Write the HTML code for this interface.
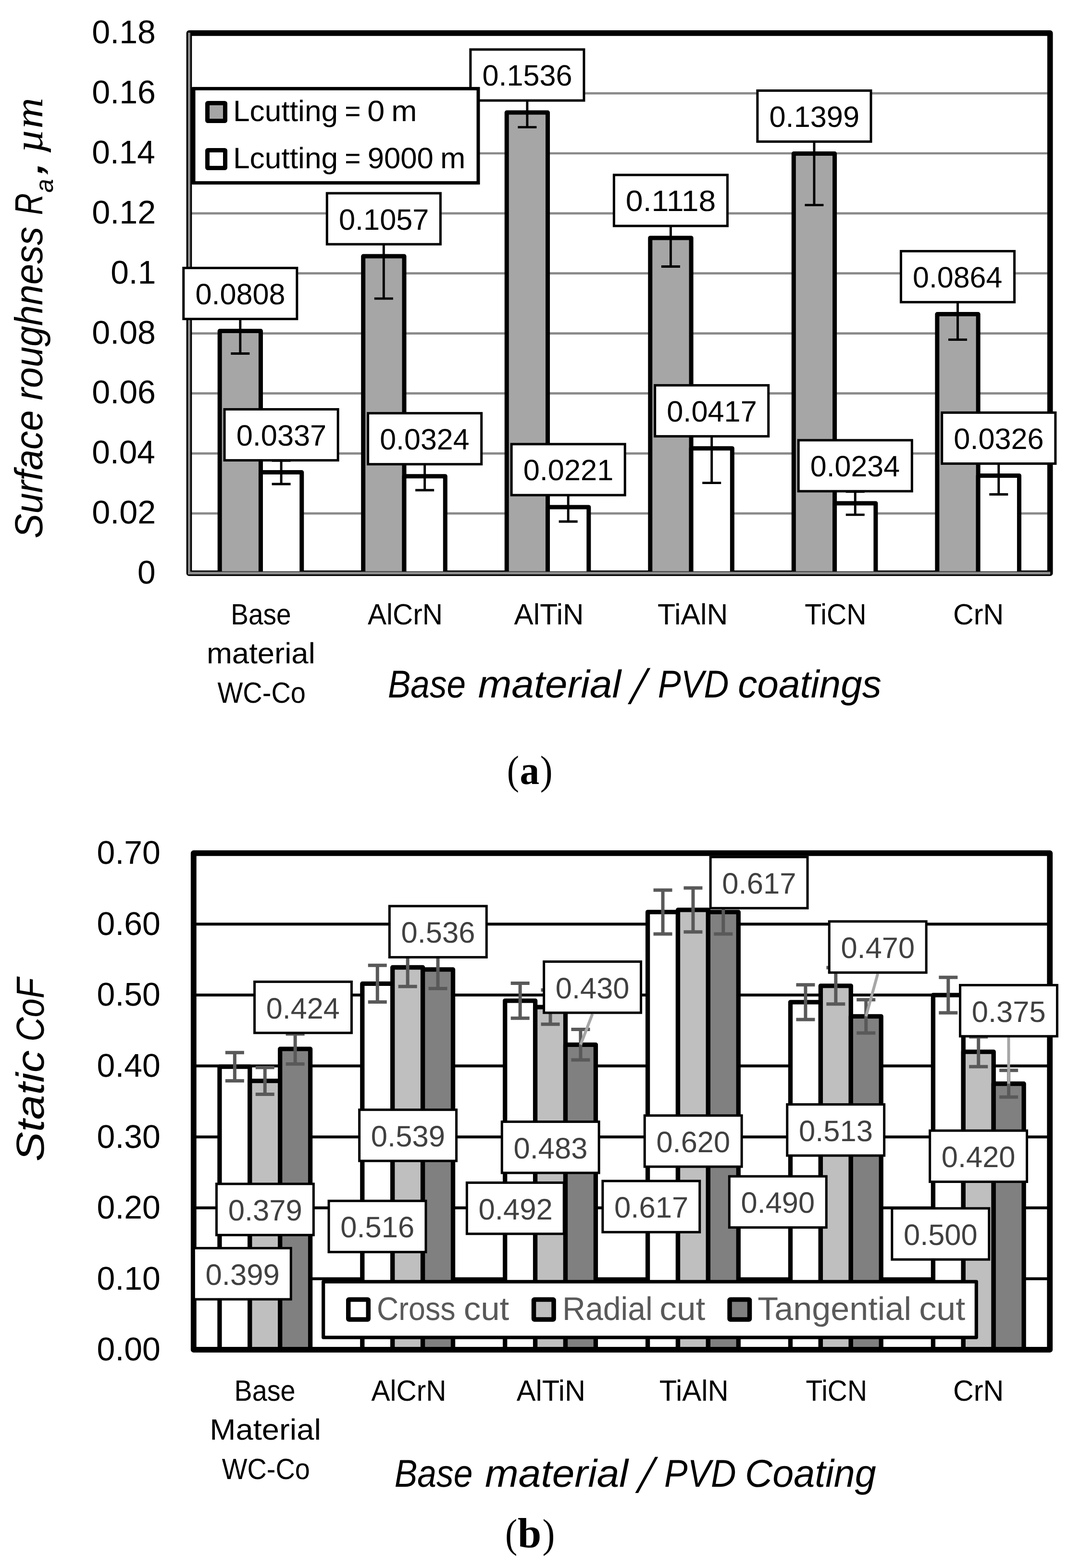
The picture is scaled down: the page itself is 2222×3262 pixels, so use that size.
<!DOCTYPE html>
<html lang="en">
<head>
<meta charset="utf-8">
<title>Surface roughness and static CoF charts</title>
<style>
html,body{margin:0;padding:0;background:#fff;}
body{width:2222px;height:3262px;overflow:hidden;}
svg{display:block;}
text{white-space:pre;text-rendering:geometricPrecision;}
</style>
</head>
<body>
<svg width="2222" height="3262" viewBox="0 0 2222 3262" role="img" aria-label="Bar charts: (a) surface roughness, (b) static coefficient of friction">
<rect width="2222" height="3262" fill="#fff"/>
<rect x="393.5" y="68.9" width="1791.2" height="1123.6" fill="#fff" stroke="none"/>
<line x1="393.5" x2="2184.7" y1="1068.14" y2="1068.14" stroke="#8a8a8a" stroke-width="4.7"/>
<line x1="393.5" x2="2184.7" y1="943.28" y2="943.28" stroke="#8a8a8a" stroke-width="4.7"/>
<line x1="393.5" x2="2184.7" y1="818.42" y2="818.42" stroke="#8a8a8a" stroke-width="4.7"/>
<line x1="393.5" x2="2184.7" y1="693.56" y2="693.56" stroke="#8a8a8a" stroke-width="4.7"/>
<line x1="393.5" x2="2184.7" y1="568.7" y2="568.7" stroke="#8a8a8a" stroke-width="4.7"/>
<line x1="393.5" x2="2184.7" y1="443.84" y2="443.84" stroke="#8a8a8a" stroke-width="4.7"/>
<line x1="393.5" x2="2184.7" y1="318.98" y2="318.98" stroke="#8a8a8a" stroke-width="4.7"/>
<line x1="393.5" x2="2184.7" y1="194.12" y2="194.12" stroke="#8a8a8a" stroke-width="4.7"/>
<rect x="393.5" y="68.9" width="1791.2" height="1123.6" fill="none" stroke="#000" stroke-width="11.6" stroke-linejoin="round"/>
<rect x="457.17" y="688.57" width="85.3" height="504.43" fill="#a6a6a6" stroke="#000" stroke-width="9" stroke-linejoin="round"/>
<rect x="542.47" y="982.61" width="85.3" height="210.39" fill="#fff" stroke="#000" stroke-width="9" stroke-linejoin="round"/>
<rect x="755.7" y="533.11" width="85.3" height="659.89" fill="#a6a6a6" stroke="#000" stroke-width="9" stroke-linejoin="round"/>
<rect x="841" y="990.73" width="85.3" height="202.27" fill="#fff" stroke="#000" stroke-width="9" stroke-linejoin="round"/>
<rect x="1054.24" y="234.08" width="85.3" height="958.92" fill="#a6a6a6" stroke="#000" stroke-width="9" stroke-linejoin="round"/>
<rect x="1139.53" y="1055.03" width="85.3" height="137.97" fill="#fff" stroke="#000" stroke-width="9" stroke-linejoin="round"/>
<rect x="1352.77" y="495.03" width="85.3" height="697.97" fill="#a6a6a6" stroke="#000" stroke-width="9" stroke-linejoin="round"/>
<rect x="1438.07" y="932.67" width="85.3" height="260.33" fill="#fff" stroke="#000" stroke-width="9" stroke-linejoin="round"/>
<rect x="1651.3" y="319.6" width="85.3" height="873.4" fill="#a6a6a6" stroke="#000" stroke-width="9" stroke-linejoin="round"/>
<rect x="1736.6" y="1046.91" width="85.3" height="146.09" fill="#fff" stroke="#000" stroke-width="9" stroke-linejoin="round"/>
<rect x="1949.84" y="653.6" width="85.3" height="539.4" fill="#a6a6a6" stroke="#000" stroke-width="9" stroke-linejoin="round"/>
<rect x="2035.13" y="989.48" width="85.3" height="203.52" fill="#fff" stroke="#000" stroke-width="9" stroke-linejoin="round"/>
<line x1="393.5" x2="393.5" y1="67.9" y2="1194.9" stroke="#8c8c8c" stroke-width="4.8"/>
<line x1="391.1" x2="2185.1" y1="1192.3" y2="1192.3" stroke="#8c8c8c" stroke-width="5.6"/>
<path d="M499.82 641.57V735.57M480.32 641.57h39M480.32 735.57h39" fill="none" stroke="#000" stroke-width="4.9"/>
<path d="M585.11 958.21V1007.01M565.61 958.21h39M565.61 1007.01h39" fill="none" stroke="#000" stroke-width="4.9"/>
<path d="M798.35 445.11V621.11M778.85 445.11h39M778.85 621.11h39" fill="none" stroke="#000" stroke-width="4.9"/>
<path d="M883.65 961.73V1019.73M864.15 961.73h39M864.15 1019.73h39" fill="none" stroke="#000" stroke-width="4.9"/>
<path d="M1096.89 203.58V264.58M1077.39 203.58h39M1077.39 264.58h39" fill="none" stroke="#000" stroke-width="4.9"/>
<path d="M1182.18 1025.03V1085.03M1162.68 1025.03h39M1162.68 1085.03h39" fill="none" stroke="#000" stroke-width="4.9"/>
<path d="M1395.42 435.63V554.43M1375.92 435.63h39M1375.92 554.43h39" fill="none" stroke="#000" stroke-width="4.9"/>
<path d="M1480.71 860.67V1004.67M1461.21 860.67h39M1461.21 1004.67h39" fill="none" stroke="#000" stroke-width="4.9"/>
<path d="M1693.95 212.6V426.6M1674.45 212.6h39M1674.45 426.6h39" fill="none" stroke="#000" stroke-width="4.9"/>
<path d="M1779.25 1022.91V1070.91M1759.75 1022.91h39M1759.75 1070.91h39" fill="none" stroke="#000" stroke-width="4.9"/>
<path d="M1992.49 600.6V706.6M1972.99 600.6h39M1972.99 706.6h39" fill="none" stroke="#000" stroke-width="4.9"/>
<path d="M2077.78 950.48V1028.48M2058.28 950.48h39M2058.28 1028.48h39" fill="none" stroke="#000" stroke-width="4.9"/>
<rect x="381.77" y="557.47" width="236.1" height="106.1" fill="#fff" stroke="#000" stroke-width="5"/>
<text transform="translate(406.38 632.97) scale(0.9971 1)" font-family='"Liberation Sans", Arial, Helvetica, sans-serif' font-size="61.4">0.0808</text>
<rect x="467.06" y="851.51" width="236.1" height="106.1" fill="#fff" stroke="#000" stroke-width="5"/>
<text transform="translate(491.67 927.01) scale(0.9988 1)" font-family='"Liberation Sans", Arial, Helvetica, sans-serif' font-size="61.4">0.0337</text>
<rect x="680.3" y="402.01" width="236.1" height="106.1" fill="#fff" stroke="#000" stroke-width="5"/>
<text transform="translate(704.91 477.51) scale(0.9988 1)" font-family='"Liberation Sans", Arial, Helvetica, sans-serif' font-size="61.4">0.1057</text>
<rect x="765.6" y="859.63" width="236.1" height="106.1" fill="#fff" stroke="#000" stroke-width="5"/>
<text transform="translate(790.22 935.13) scale(0.9922 1)" font-family='"Liberation Sans", Arial, Helvetica, sans-serif' font-size="61.4">0.0324</text>
<rect x="978.84" y="102.98" width="236.1" height="106.1" fill="#fff" stroke="#000" stroke-width="5"/>
<text transform="translate(1003.44 178.48) scale(0.9971 1)" font-family='"Liberation Sans", Arial, Helvetica, sans-serif' font-size="61.4">0.1536</text>
<rect x="1064.13" y="923.93" width="236.1" height="106.1" fill="#fff" stroke="#000" stroke-width="5"/>
<text transform="translate(1088.73 999.43) scale(0.9988 1)" font-family='"Liberation Sans", Arial, Helvetica, sans-serif' font-size="61.4">0.0221</text>
<rect x="1277.37" y="363.93" width="236.1" height="106.1" fill="#fff" stroke="#000" stroke-width="5"/>
<text transform="translate(1301.86 439.43) scale(1.0494 1)" font-family='"Liberation Sans", Arial, Helvetica, sans-serif' font-size="61.4">0.1118</text>
<rect x="1362.66" y="801.57" width="236.1" height="106.1" fill="#fff" stroke="#000" stroke-width="5"/>
<text transform="translate(1387.27 877.07) scale(0.9988 1)" font-family='"Liberation Sans", Arial, Helvetica, sans-serif' font-size="61.4">0.0417</text>
<rect x="1575.9" y="188.5" width="236.1" height="106.1" fill="#fff" stroke="#000" stroke-width="5"/>
<text transform="translate(1600.51 264) scale(0.9988 1)" font-family='"Liberation Sans", Arial, Helvetica, sans-serif' font-size="61.4">0.1399</text>
<rect x="1661.2" y="915.81" width="236.1" height="106.1" fill="#fff" stroke="#000" stroke-width="5"/>
<text transform="translate(1685.82 991.31) scale(0.9922 1)" font-family='"Liberation Sans", Arial, Helvetica, sans-serif' font-size="61.4">0.0234</text>
<rect x="1874.44" y="522.5" width="236.1" height="106.1" fill="#fff" stroke="#000" stroke-width="5"/>
<text transform="translate(1899.05 598) scale(0.9922 1)" font-family='"Liberation Sans", Arial, Helvetica, sans-serif' font-size="61.4">0.0864</text>
<rect x="1959.73" y="858.38" width="236.1" height="106.1" fill="#fff" stroke="#000" stroke-width="5"/>
<text transform="translate(1984.34 933.88) scale(0.9971 1)" font-family='"Liberation Sans", Arial, Helvetica, sans-serif' font-size="61.4">0.0326</text>
<rect x="403" y="184.4" width="592" height="196" fill="#fff" stroke="#000" stroke-width="7" stroke-linejoin="miter"/>
<rect x="397" y="182" width="6" height="200.8" fill="#000"/>
<rect x="431.5" y="214.5" width="37" height="37" rx="1" fill="#a6a6a6" stroke="#000" stroke-width="9" stroke-linejoin="round"/>
<rect x="431.5" y="312.5" width="37" height="37" rx="1" fill="#fff" stroke="#000" stroke-width="9" stroke-linejoin="round"/>
<text transform="translate(484.91 251.8) scale(1.0168 1)" font-family='"Liberation Sans", Arial, Helvetica, sans-serif' font-size="61.3">Lcutting</text>
<text transform="translate(717.24 251.8) scale(0.9289 1)" font-family='"Liberation Sans", Arial, Helvetica, sans-serif' font-size="61.3">=</text>
<text transform="translate(764.33 251.8) scale(1.0562 1)" font-family='"Liberation Sans", Arial, Helvetica, sans-serif' font-size="61.3">0</text>
<text transform="translate(814.15 251.8) scale(1.0413 1)" font-family='"Liberation Sans", Arial, Helvetica, sans-serif' font-size="61.3">m</text>
<text transform="translate(484.91 350) scale(1.0168 1)" font-family='"Liberation Sans", Arial, Helvetica, sans-serif' font-size="61.3">Lcutting</text>
<text transform="translate(717.24 350) scale(0.9289 1)" font-family='"Liberation Sans", Arial, Helvetica, sans-serif' font-size="61.3">=</text>
<text transform="translate(764.63 350) scale(1.0054 1)" font-family='"Liberation Sans", Arial, Helvetica, sans-serif' font-size="61.3">9000</text>
<text transform="translate(916.12 350) scale(1.0251 1)" font-family='"Liberation Sans", Arial, Helvetica, sans-serif' font-size="61.3">m</text>
<text transform="translate(286.03 1214) scale(0.9873 1)" font-family='"Liberation Sans", Arial, Helvetica, sans-serif' font-size="68.5">0</text>
<text transform="translate(191.31 1089.14) scale(0.9980 1)" font-family='"Liberation Sans", Arial, Helvetica, sans-serif' font-size="68.5">0.02</text>
<text transform="translate(191.33 964.28) scale(0.9874 1)" font-family='"Liberation Sans", Arial, Helvetica, sans-serif' font-size="68.5">0.04</text>
<text transform="translate(191.31 839.42) scale(0.9953 1)" font-family='"Liberation Sans", Arial, Helvetica, sans-serif' font-size="68.5">0.06</text>
<text transform="translate(191.31 714.56) scale(0.9953 1)" font-family='"Liberation Sans", Arial, Helvetica, sans-serif' font-size="68.5">0.08</text>
<text transform="translate(230.23 589.7) scale(0.9881 1)" font-family='"Liberation Sans", Arial, Helvetica, sans-serif' font-size="68.5">0.1</text>
<text transform="translate(191.31 464.84) scale(0.9980 1)" font-family='"Liberation Sans", Arial, Helvetica, sans-serif' font-size="68.5">0.12</text>
<text transform="translate(191.33 339.98) scale(0.9874 1)" font-family='"Liberation Sans", Arial, Helvetica, sans-serif' font-size="68.5">0.14</text>
<text transform="translate(191.31 215.12) scale(0.9953 1)" font-family='"Liberation Sans", Arial, Helvetica, sans-serif' font-size="68.5">0.16</text>
<text transform="translate(191.31 90.26) scale(0.9953 1)" font-family='"Liberation Sans", Arial, Helvetica, sans-serif' font-size="68.5">0.18</text>
<text transform="translate(480.3 1298.5) scale(0.9009 1)" font-family='"Liberation Sans", Arial, Helvetica, sans-serif' font-size="61">Base</text>
<text transform="translate(429.97 1380) scale(1.0406 1)" font-family='"Liberation Sans", Arial, Helvetica, sans-serif' font-size="61">material</text>
<text transform="translate(452.5 1461.5) scale(0.9179 1)" font-family='"Liberation Sans", Arial, Helvetica, sans-serif' font-size="61">WC-Co</text>
<text transform="translate(764.9 1298.5) scale(0.9598 1)" font-family='"Liberation Sans", Arial, Helvetica, sans-serif' font-size="61">AlCrN</text>
<text transform="translate(1069.6 1298.5) scale(0.9871 1)" font-family='"Liberation Sans", Arial, Helvetica, sans-serif' font-size="61">AlTiN</text>
<text transform="translate(1368.08 1298.5) scale(0.9964 1)" font-family='"Liberation Sans", Arial, Helvetica, sans-serif' font-size="61">TiAlN</text>
<text transform="translate(1674.35 1298.5) scale(0.9386 1)" font-family='"Liberation Sans", Arial, Helvetica, sans-serif' font-size="61">TiCN</text>
<text transform="translate(1983.04 1298.5) scale(0.9716 1)" font-family='"Liberation Sans", Arial, Helvetica, sans-serif' font-size="61">CrN</text>
<text transform="translate(806.97 1451.4) scale(0.8818 1)" font-family='"Liberation Sans", Arial, Helvetica, sans-serif' font-size="80.6" font-style="italic">Base</text>
<text transform="translate(994.65 1451.4) scale(1.0373 1)" font-family='"Liberation Sans", Arial, Helvetica, sans-serif' font-size="80.6" font-style="italic">material</text>
<text transform="translate(1310.75 1464.1) scale(1.0089 1.27) skewX(-12.5)" font-family='"Liberation Sans", Arial, Helvetica, sans-serif' font-size="80.6" font-style="italic">/</text>
<text transform="translate(1368.74 1451.4) scale(0.8916 1)" font-family='"Liberation Sans", Arial, Helvetica, sans-serif' font-size="80.6" font-style="italic">PVD</text>
<text transform="translate(1535.19 1451.4) scale(0.9950 1)" font-family='"Liberation Sans", Arial, Helvetica, sans-serif' font-size="80.6" font-style="italic">coatings</text>
<text transform="translate(87.8 1120.24) rotate(-90) scale(0.9500 1)" font-family='"Liberation Sans", Arial, Helvetica, sans-serif' font-size="81.5" font-style="italic">Surface</text>
<text transform="translate(87.8 832.86) rotate(-90) scale(0.9493 1)" font-family='"Liberation Sans", Arial, Helvetica, sans-serif' font-size="81.5" font-style="italic">roughness</text>
<text transform="translate(87.8 447.18) rotate(-90) scale(0.7694 1)" font-family='"Liberation Sans", Arial, Helvetica, sans-serif' font-size="81.5" font-style="italic">R</text>
<text transform="translate(109.5 400.63) rotate(-90) scale(0.9863 1)" font-family='"Liberation Sans", Arial, Helvetica, sans-serif' font-size="52" font-style="italic">a</text>
<text transform="translate(87.5 365.97) rotate(-90) scale(1.3852 1)" font-family='"Liberation Sans", Arial, Helvetica, sans-serif' font-size="90" font-style="italic">,</text>
<text transform="translate(88 318.59) rotate(-90) scale(1.0581 1)" font-family='"Liberation Serif", "Times New Roman", serif' font-size="84" font-style="italic">µm</text>
<text transform="translate(1054.87 1630.6) scale(0.8923 1)" font-family='"Liberation Serif", "Times New Roman", serif' font-size="85">(</text>
<text transform="translate(1081.56 1630.6) scale(0.9681 1)" font-family='"Liberation Serif", "Times New Roman", serif' font-size="84" font-weight="700">a</text>
<text transform="translate(1123.67 1630.6) scale(0.9140 1)" font-family='"Liberation Serif", "Times New Roman", serif' font-size="85">)</text>
<rect x="402.8" y="1774.9" width="1781.4" height="1033" fill="#fff" stroke="none"/>
<line x1="402.8" x2="2184.2" y1="2660.33" y2="2660.33" stroke="#000" stroke-width="6"/>
<line x1="402.8" x2="2184.2" y1="2512.76" y2="2512.76" stroke="#000" stroke-width="6"/>
<line x1="402.8" x2="2184.2" y1="2365.19" y2="2365.19" stroke="#000" stroke-width="6"/>
<line x1="402.8" x2="2184.2" y1="2217.62" y2="2217.62" stroke="#000" stroke-width="6"/>
<line x1="402.8" x2="2184.2" y1="2070.05" y2="2070.05" stroke="#000" stroke-width="6"/>
<line x1="402.8" x2="2184.2" y1="1922.48" y2="1922.48" stroke="#000" stroke-width="6"/>
<rect x="456.9" y="2219.1" width="62.9" height="588.8" fill="#fff" stroke="#000" stroke-width="9.3" stroke-linejoin="round"/>
<rect x="519.8" y="2248.61" width="62.9" height="559.29" fill="#bfbfbf" stroke="#000" stroke-width="9.3" stroke-linejoin="round"/>
<rect x="582.7" y="2182.2" width="62.9" height="625.7" fill="#808080" stroke="#000" stroke-width="9.3" stroke-linejoin="round"/>
<rect x="753.8" y="2046.44" width="62.9" height="761.46" fill="#fff" stroke="#000" stroke-width="9.3" stroke-linejoin="round"/>
<rect x="816.7" y="2012.5" width="62.9" height="795.4" fill="#bfbfbf" stroke="#000" stroke-width="9.3" stroke-linejoin="round"/>
<rect x="879.6" y="2016.92" width="62.9" height="790.98" fill="#808080" stroke="#000" stroke-width="9.3" stroke-linejoin="round"/>
<rect x="1050.7" y="2081.86" width="62.9" height="726.04" fill="#fff" stroke="#000" stroke-width="9.3" stroke-linejoin="round"/>
<rect x="1113.6" y="2095.14" width="62.9" height="712.76" fill="#bfbfbf" stroke="#000" stroke-width="9.3" stroke-linejoin="round"/>
<rect x="1176.5" y="2173.35" width="62.9" height="634.55" fill="#808080" stroke="#000" stroke-width="9.3" stroke-linejoin="round"/>
<rect x="1347.6" y="1897.39" width="62.9" height="910.51" fill="#fff" stroke="#000" stroke-width="9.3" stroke-linejoin="round"/>
<rect x="1410.5" y="1892.97" width="62.9" height="914.93" fill="#bfbfbf" stroke="#000" stroke-width="9.3" stroke-linejoin="round"/>
<rect x="1473.4" y="1897.39" width="62.9" height="910.51" fill="#808080" stroke="#000" stroke-width="9.3" stroke-linejoin="round"/>
<rect x="1644.5" y="2084.81" width="62.9" height="723.09" fill="#fff" stroke="#000" stroke-width="9.3" stroke-linejoin="round"/>
<rect x="1707.4" y="2050.87" width="62.9" height="757.03" fill="#bfbfbf" stroke="#000" stroke-width="9.3" stroke-linejoin="round"/>
<rect x="1770.3" y="2114.32" width="62.9" height="693.58" fill="#808080" stroke="#000" stroke-width="9.3" stroke-linejoin="round"/>
<rect x="1941.4" y="2070.05" width="62.9" height="737.85" fill="#fff" stroke="#000" stroke-width="9.3" stroke-linejoin="round"/>
<rect x="2004.3" y="2188.11" width="62.9" height="619.79" fill="#bfbfbf" stroke="#000" stroke-width="9.3" stroke-linejoin="round"/>
<rect x="2067.2" y="2254.51" width="62.9" height="553.39" fill="#808080" stroke="#000" stroke-width="9.3" stroke-linejoin="round"/>
<rect x="402.8" y="1774.9" width="1781.4" height="1033" fill="none" stroke="#000" stroke-width="11.8" stroke-linejoin="round"/>
<path d="M488.35 2189.66V2248.54M468.85 2189.66h39M468.85 2248.54h39" fill="none" stroke="#595959" stroke-width="7"/>
<path d="M551.25 2220.65V2276.57M531.75 2220.65h39M531.75 2276.57h39" fill="none" stroke="#595959" stroke-width="7"/>
<path d="M614.15 2150.92V2213.49M594.65 2150.92h39M594.65 2213.49h39" fill="none" stroke="#595959" stroke-width="7"/>
<path d="M785.25 2008.37V2084.51M765.75 2008.37h39M765.75 2084.51h39" fill="none" stroke="#595959" stroke-width="7"/>
<path d="M848.15 1972.73V2052.27M828.65 1972.73h39M828.65 2052.27h39" fill="none" stroke="#595959" stroke-width="7"/>
<path d="M911.05 1977.38V2056.47M891.55 1977.38h39M891.55 2056.47h39" fill="none" stroke="#595959" stroke-width="7"/>
<path d="M1082.15 2045.55V2118.16M1062.65 2045.55h39M1062.65 2118.16h39" fill="none" stroke="#595959" stroke-width="7"/>
<path d="M1145.05 2059.5V2130.78M1125.55 2059.5h39M1125.55 2130.78h39" fill="none" stroke="#595959" stroke-width="7"/>
<path d="M1207.95 2141.62V2205.08M1188.45 2141.62h39M1188.45 2205.08h39" fill="none" stroke="#595959" stroke-width="7"/>
<path d="M1379.05 1851.87V1942.92M1359.55 1851.87h39M1359.55 1942.92h39" fill="none" stroke="#595959" stroke-width="7"/>
<path d="M1441.95 1847.22V1938.71M1422.45 1847.22h39M1422.45 1938.71h39" fill="none" stroke="#595959" stroke-width="7"/>
<path d="M1504.85 1851.87V1942.92M1485.35 1851.87h39M1485.35 1942.92h39" fill="none" stroke="#595959" stroke-width="7"/>
<path d="M1675.95 2048.65V2120.96M1656.45 2048.65h39M1656.45 2120.96h39" fill="none" stroke="#595959" stroke-width="7"/>
<path d="M1738.85 2013.01V2088.72M1719.35 2013.01h39M1719.35 2088.72h39" fill="none" stroke="#595959" stroke-width="7"/>
<path d="M1801.75 2079.64V2149M1782.25 2079.64h39M1782.25 2149h39" fill="none" stroke="#595959" stroke-width="7"/>
<path d="M1972.85 2033.16V2106.94M1953.35 2033.16h39M1953.35 2106.94h39" fill="none" stroke="#595959" stroke-width="7"/>
<path d="M2035.75 2157.12V2219.1M2016.25 2157.12h39M2016.25 2219.1h39" fill="none" stroke="#595959" stroke-width="7"/>
<path d="M2098.65 2226.84V2282.18M2079.15 2226.84h39M2079.15 2282.18h39" fill="none" stroke="#595959" stroke-width="7"/>
<line x1="1232.6" y1="2109.4" x2="1207.95" y2="2173.35" stroke="#a6a6a6" stroke-width="6"/>
<line x1="1826.2" y1="2025.8" x2="1801.75" y2="2114.32" stroke="#a6a6a6" stroke-width="6"/>
<line x1="2098.5" y1="2158.3" x2="2098.65" y2="2254.51" stroke="#a6a6a6" stroke-width="6"/>
<rect x="403.35" y="2596.6" width="201.9" height="106.4" fill="#fff" stroke="#000" stroke-width="5"/>
<text transform="translate(427.54 2672.7) scale(1.0020 1)" font-family='"Liberation Sans", Arial, Helvetica, sans-serif' font-size="61.5" fill="#404040">0.399</text>
<rect x="450.45" y="2462.9" width="201.9" height="106.4" fill="#fff" stroke="#000" stroke-width="5"/>
<text transform="translate(474.64 2539) scale(1.0020 1)" font-family='"Liberation Sans", Arial, Helvetica, sans-serif' font-size="61.5" fill="#404040">0.379</text>
<rect x="529.55" y="2042.4" width="201.9" height="106.4" fill="#fff" stroke="#000" stroke-width="5"/>
<text transform="translate(553.76 2118.5) scale(0.9937 1)" font-family='"Liberation Sans", Arial, Helvetica, sans-serif' font-size="61.5" fill="#404040">0.424</text>
<rect x="684.05" y="2498.3" width="201.9" height="106.4" fill="#fff" stroke="#000" stroke-width="5"/>
<text transform="translate(708.25 2574.4) scale(0.9999 1)" font-family='"Liberation Sans", Arial, Helvetica, sans-serif' font-size="61.5" fill="#404040">0.516</text>
<rect x="747.65" y="2308.7" width="201.9" height="106.4" fill="#fff" stroke="#000" stroke-width="5"/>
<text transform="translate(771.84 2384.8) scale(1.0020 1)" font-family='"Liberation Sans", Arial, Helvetica, sans-serif' font-size="61.5" fill="#404040">0.539</text>
<rect x="810.35" y="1885" width="201.9" height="106.4" fill="#fff" stroke="#000" stroke-width="5"/>
<text transform="translate(834.55 1961.1) scale(0.9999 1)" font-family='"Liberation Sans", Arial, Helvetica, sans-serif' font-size="61.5" fill="#404040">0.536</text>
<rect x="971.35" y="2460.4" width="201.9" height="106.4" fill="#fff" stroke="#000" stroke-width="5"/>
<text transform="translate(995.54 2536.5) scale(1.0020 1)" font-family='"Liberation Sans", Arial, Helvetica, sans-serif' font-size="61.5" fill="#404040">0.492</text>
<rect x="1044.25" y="2333.6" width="201.9" height="106.4" fill="#fff" stroke="#000" stroke-width="5"/>
<text transform="translate(1068.45 2409.7) scale(0.9999 1)" font-family='"Liberation Sans", Arial, Helvetica, sans-serif' font-size="61.5" fill="#404040">0.483</text>
<rect x="1131.65" y="2000.5" width="201.9" height="106.4" fill="#fff" stroke="#000" stroke-width="5"/>
<text transform="translate(1155.85 2076.6) scale(0.9978 1)" font-family='"Liberation Sans", Arial, Helvetica, sans-serif' font-size="61.5" fill="#404040">0.430</text>
<rect x="1253.85" y="2456.9" width="201.9" height="106.4" fill="#fff" stroke="#000" stroke-width="5"/>
<text transform="translate(1278.04 2533) scale(1.0020 1)" font-family='"Liberation Sans", Arial, Helvetica, sans-serif' font-size="61.5" fill="#404040">0.617</text>
<rect x="1341.25" y="2320.7" width="201.9" height="106.4" fill="#fff" stroke="#000" stroke-width="5"/>
<text transform="translate(1365.45 2396.8) scale(0.9978 1)" font-family='"Liberation Sans", Arial, Helvetica, sans-serif' font-size="61.5" fill="#404040">0.620</text>
<rect x="1478.15" y="1782.9" width="201.9" height="106.4" fill="#fff" stroke="#000" stroke-width="5"/>
<text transform="translate(1502.34 1859) scale(1.0020 1)" font-family='"Liberation Sans", Arial, Helvetica, sans-serif' font-size="61.5" fill="#404040">0.617</text>
<rect x="1517.35" y="2447.2" width="201.9" height="106.4" fill="#fff" stroke="#000" stroke-width="5"/>
<text transform="translate(1541.55 2523.3) scale(0.9978 1)" font-family='"Liberation Sans", Arial, Helvetica, sans-serif' font-size="61.5" fill="#404040">0.490</text>
<rect x="1637.75" y="2297.6" width="201.9" height="106.4" fill="#fff" stroke="#000" stroke-width="5"/>
<text transform="translate(1661.95 2373.7) scale(0.9999 1)" font-family='"Liberation Sans", Arial, Helvetica, sans-serif' font-size="61.5" fill="#404040">0.513</text>
<rect x="1725.25" y="1916.9" width="201.9" height="106.4" fill="#fff" stroke="#000" stroke-width="5"/>
<text transform="translate(1749.45 1993) scale(0.9978 1)" font-family='"Liberation Sans", Arial, Helvetica, sans-serif' font-size="61.5" fill="#404040">0.470</text>
<rect x="1855.85" y="2513.8" width="201.9" height="106.4" fill="#fff" stroke="#000" stroke-width="5"/>
<text transform="translate(1880.05 2589.9) scale(0.9978 1)" font-family='"Liberation Sans", Arial, Helvetica, sans-serif' font-size="61.5" fill="#404040">0.500</text>
<rect x="1934.65" y="2352.1" width="201.9" height="106.4" fill="#fff" stroke="#000" stroke-width="5"/>
<text transform="translate(1958.85 2428.2) scale(0.9978 1)" font-family='"Liberation Sans", Arial, Helvetica, sans-serif' font-size="61.5" fill="#404040">0.420</text>
<rect x="1997.55" y="2049.4" width="201.9" height="106.4" fill="#fff" stroke="#000" stroke-width="5"/>
<text transform="translate(2021.75 2125.5) scale(0.9999 1)" font-family='"Liberation Sans", Arial, Helvetica, sans-serif' font-size="61.5" fill="#404040">0.375</text>
<rect x="672.7" y="2666.3" width="1358.6" height="116" fill="#fff" stroke="#000" stroke-width="7.2" stroke-linejoin="round"/>
<rect x="724.75" y="2703.5" width="41.5" height="41.5" rx="1.5" fill="#fff" stroke="#000" stroke-width="9.5" stroke-linejoin="round"/>
<rect x="1110.55" y="2703.5" width="41.5" height="41.5" rx="1.5" fill="#bfbfbf" stroke="#000" stroke-width="9.5" stroke-linejoin="round"/>
<rect x="1518.05" y="2703.5" width="41.5" height="41.5" rx="1.5" fill="#808080" stroke="#000" stroke-width="9.5" stroke-linejoin="round"/>
<text transform="translate(783.97 2745.7) scale(0.9215 1)" font-family='"Liberation Sans", Arial, Helvetica, sans-serif' font-size="68" fill="#595959">Cross</text>
<text transform="translate(964.66 2745.7) scale(1.0433 1)" font-family='"Liberation Sans", Arial, Helvetica, sans-serif' font-size="68" fill="#595959">cut</text>
<text transform="translate(1170.11 2745.7) scale(0.9732 1)" font-family='"Liberation Sans", Arial, Helvetica, sans-serif' font-size="68" fill="#595959">Radial</text>
<text transform="translate(1372.35 2745.7) scale(1.0467 1)" font-family='"Liberation Sans", Arial, Helvetica, sans-serif' font-size="68" fill="#595959">cut</text>
<text transform="translate(1576.3 2745.7) scale(1.0311 1)" font-family='"Liberation Sans", Arial, Helvetica, sans-serif' font-size="68" fill="#595959">Tangential</text>
<text transform="translate(1912.23 2745.7) scale(1.0570 1)" font-family='"Liberation Sans", Arial, Helvetica, sans-serif' font-size="68" fill="#595959">cut</text>
<text transform="translate(201.62 2830.3) scale(0.9918 1)" font-family='"Liberation Sans", Arial, Helvetica, sans-serif' font-size="68.5">0.00</text>
<text transform="translate(201.62 2682.73) scale(0.9918 1)" font-family='"Liberation Sans", Arial, Helvetica, sans-serif' font-size="68.5">0.10</text>
<text transform="translate(201.62 2535.16) scale(0.9918 1)" font-family='"Liberation Sans", Arial, Helvetica, sans-serif' font-size="68.5">0.20</text>
<text transform="translate(201.62 2387.59) scale(0.9918 1)" font-family='"Liberation Sans", Arial, Helvetica, sans-serif' font-size="68.5">0.30</text>
<text transform="translate(201.62 2240.02) scale(0.9918 1)" font-family='"Liberation Sans", Arial, Helvetica, sans-serif' font-size="68.5">0.40</text>
<text transform="translate(201.62 2092.45) scale(0.9918 1)" font-family='"Liberation Sans", Arial, Helvetica, sans-serif' font-size="68.5">0.50</text>
<text transform="translate(201.62 1944.88) scale(0.9918 1)" font-family='"Liberation Sans", Arial, Helvetica, sans-serif' font-size="68.5">0.60</text>
<text transform="translate(201.62 1797.31) scale(0.9918 1)" font-family='"Liberation Sans", Arial, Helvetica, sans-serif' font-size="68.5">0.70</text>
<text transform="translate(487.54 2913.5) scale(0.9138 1)" font-family='"Liberation Sans", Arial, Helvetica, sans-serif' font-size="61">Base</text>
<text transform="translate(436.19 2995) scale(1.0678 1)" font-family='"Liberation Sans", Arial, Helvetica, sans-serif' font-size="61">Material</text>
<text transform="translate(461.7 3076.5) scale(0.9164 1)" font-family='"Liberation Sans", Arial, Helvetica, sans-serif' font-size="61">WC-Co</text>
<text transform="translate(772.5 2913.5) scale(0.9592 1)" font-family='"Liberation Sans", Arial, Helvetica, sans-serif' font-size="61">AlCrN</text>
<text transform="translate(1074.7 2913.5) scale(0.9758 1)" font-family='"Liberation Sans", Arial, Helvetica, sans-serif' font-size="61">AlTiN</text>
<text transform="translate(1371.7 2913.5) scale(0.9807 1)" font-family='"Liberation Sans", Arial, Helvetica, sans-serif' font-size="61">TiAlN</text>
<text transform="translate(1676.56 2913.5) scale(0.9325 1)" font-family='"Liberation Sans", Arial, Helvetica, sans-serif' font-size="61">TiCN</text>
<text transform="translate(1983.04 2913.5) scale(0.9716 1)" font-family='"Liberation Sans", Arial, Helvetica, sans-serif' font-size="61">CrN</text>
<text transform="translate(820.66 3092.7) scale(0.8858 1)" font-family='"Liberation Sans", Arial, Helvetica, sans-serif' font-size="80.6" font-style="italic">Base</text>
<text transform="translate(1009.04 3092.7) scale(1.0393 1)" font-family='"Liberation Sans", Arial, Helvetica, sans-serif' font-size="80.6" font-style="italic">material</text>
<text transform="translate(1326.19 3105.4) scale(1.0173 1.27) skewX(-12.5)" font-family='"Liberation Sans", Arial, Helvetica, sans-serif' font-size="80.6" font-style="italic">/</text>
<text transform="translate(1382.12 3092.7) scale(0.9022 1)" font-family='"Liberation Sans", Arial, Helvetica, sans-serif' font-size="80.6" font-style="italic">PVD</text>
<text transform="translate(1550.05 3092.7) scale(0.9817 1)" font-family='"Liberation Sans", Arial, Helvetica, sans-serif' font-size="80.6" font-style="italic">Coating</text>
<text transform="translate(90.9 2416.61) rotate(-90) scale(1.1360 1)" font-family='"Liberation Sans", Arial, Helvetica, sans-serif' font-size="81.5" font-style="italic">Static</text>
<text transform="translate(90.9 2166.65) rotate(-90) scale(0.8580 1)" font-family='"Liberation Sans", Arial, Helvetica, sans-serif' font-size="81.5" font-style="italic">CoF</text>
<text transform="translate(1051.07 3218.9) scale(0.8923 1)" font-family='"Liberation Serif", "Times New Roman", serif' font-size="85">(</text>
<text transform="translate(1077.11 3218.8) scale(1.0071 1)" font-family='"Liberation Serif", "Times New Roman", serif' font-size="88" font-weight="700">b</text>
<text transform="translate(1128.47 3218.9) scale(0.9140 1)" font-family='"Liberation Serif", "Times New Roman", serif' font-size="85">)</text>
</svg>
</body>
</html>
